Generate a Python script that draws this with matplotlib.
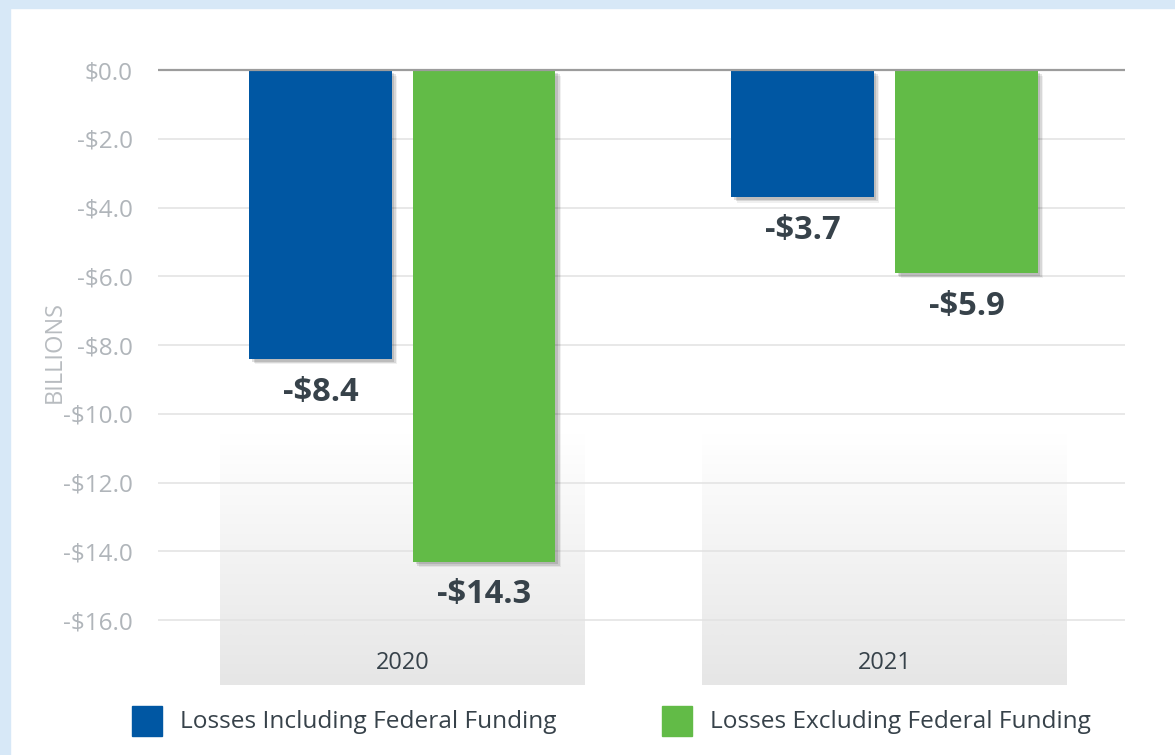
import matplotlib.pyplot as plt
import matplotlib.patheffects as pe
import numpy as np
from matplotlib.patches import Rectangle

plt.rcParams['font.family'] = ['Open Sans', 'DejaVu Sans']

years = ["2020", "2021"]
incl_federal = [-8.4, -3.7]
excl_federal = [-14.3, -5.9]
series_names = ["Losses Including Federal Funding", "Losses Excluding Federal Funding"]
y_ticks = [0, -2, -4, -6, -8, -10, -12, -14, -16]

BLUE = "#0057a3"
GREEN = "#62bb47"
DARK = "#37424a"
TICK = "#b0b5ba"

fig = plt.figure(figsize=(11.75, 7.55), dpi=100)
fig.patch.set_facecolor("white")

# light blue frame on left / top
fig.patches.append(Rectangle((0, 0), 10 / 1175, 1, transform=fig.transFigure,
                             color="#d7e8f7", zorder=0))
fig.patches.append(Rectangle((0, 1 - 8 / 755), 1, 8 / 755, transform=fig.transFigure,
                             color="#d7e8f7", zorder=0))

ax = fig.add_axes([158 / 1175, 1 - 685 / 755, (1125 - 158) / 1175, (685 - 53) / 755])
ax.set_xlim(-0.507, 1.499)
ax.set_ylim(-17.89, 0.495)

x = np.arange(len(years))
width = 0.295
offset = 0.170

# gradient band behind each category
grad = np.linspace(0, 1, 256).reshape(-1, 1)
cmap = plt.matplotlib.colors.LinearSegmentedColormap.from_list("g", ["#ffffff", "#e6e6e6"])
for xi in x:
    ax.imshow(grad, extent=(xi - 0.378, xi + 0.379, -17.89, -10.6), aspect="auto",
              cmap=cmap, origin="upper", zorder=0.5)

for t in y_ticks[1:]:
    ax.axhline(t, color="#e2e2e2", lw=1.1, zorder=1)
ax.axhline(0, color="#9c9c9c", lw=1.6, zorder=4)

shadow = [pe.SimplePatchShadow(offset=(4, -4), shadow_rgbFace="black", alpha=0.06),
          pe.SimplePatchShadow(offset=(3, -3), shadow_rgbFace="black", alpha=0.1),
          pe.SimplePatchShadow(offset=(2, -2), shadow_rgbFace="black", alpha=0.12),
          pe.Normal()]

b1 = ax.bar(x - offset, incl_federal, width, color=BLUE, zorder=3)
b2 = ax.bar(x + offset, excl_federal, width, color=GREEN, zorder=3)
for bars in (b1, b2):
    for r in bars:
        r.set_path_effects(shadow)
        v = r.get_height()
        ax.annotate(f"-${abs(v):.1f}", (r.get_x() + r.get_width() / 2, v),
                    xytext=(0, -24), textcoords="offset points", ha="center", va="center",
                    fontsize=23.5, fontweight="bold", color=DARK, zorder=5)

for xi, yr in zip(x, years):
    ax.text(xi, -17.25, yr, ha="center", va="center", fontsize=17, color=DARK, zorder=5)

ax.set_yticks(y_ticks)
ax.set_yticklabels([f"-${abs(t):.1f}" if t < 0 else f"${t:.1f}" for t in y_ticks],
                   fontsize=17.5, color=TICK)
ax.set_xticks([])
ax.tick_params(axis="y", length=0, pad=18)
for s in ax.spines.values():
    s.set_visible(False)

fig.text(55 / 1175, 1 - 352 / 755, "BILLIONS", rotation=90, ha="center", va="center",
         fontsize=17, color="#b8bcc0")

# legend
for (lx, tx), name, col in zip([(132, 180), (662, 710)], series_names, [BLUE, GREEN]):
    fig.patches.append(Rectangle((lx / 1175, 1 - 736 / 755), 30 / 1175, 30 / 755,
                                 transform=fig.transFigure, color=col))
    fig.text(tx / 1175, 1 - 722 / 755, name, ha="left", va="center", fontsize=17.6, color=DARK)

fig.savefig("out.png", dpi=100, facecolor="white")
